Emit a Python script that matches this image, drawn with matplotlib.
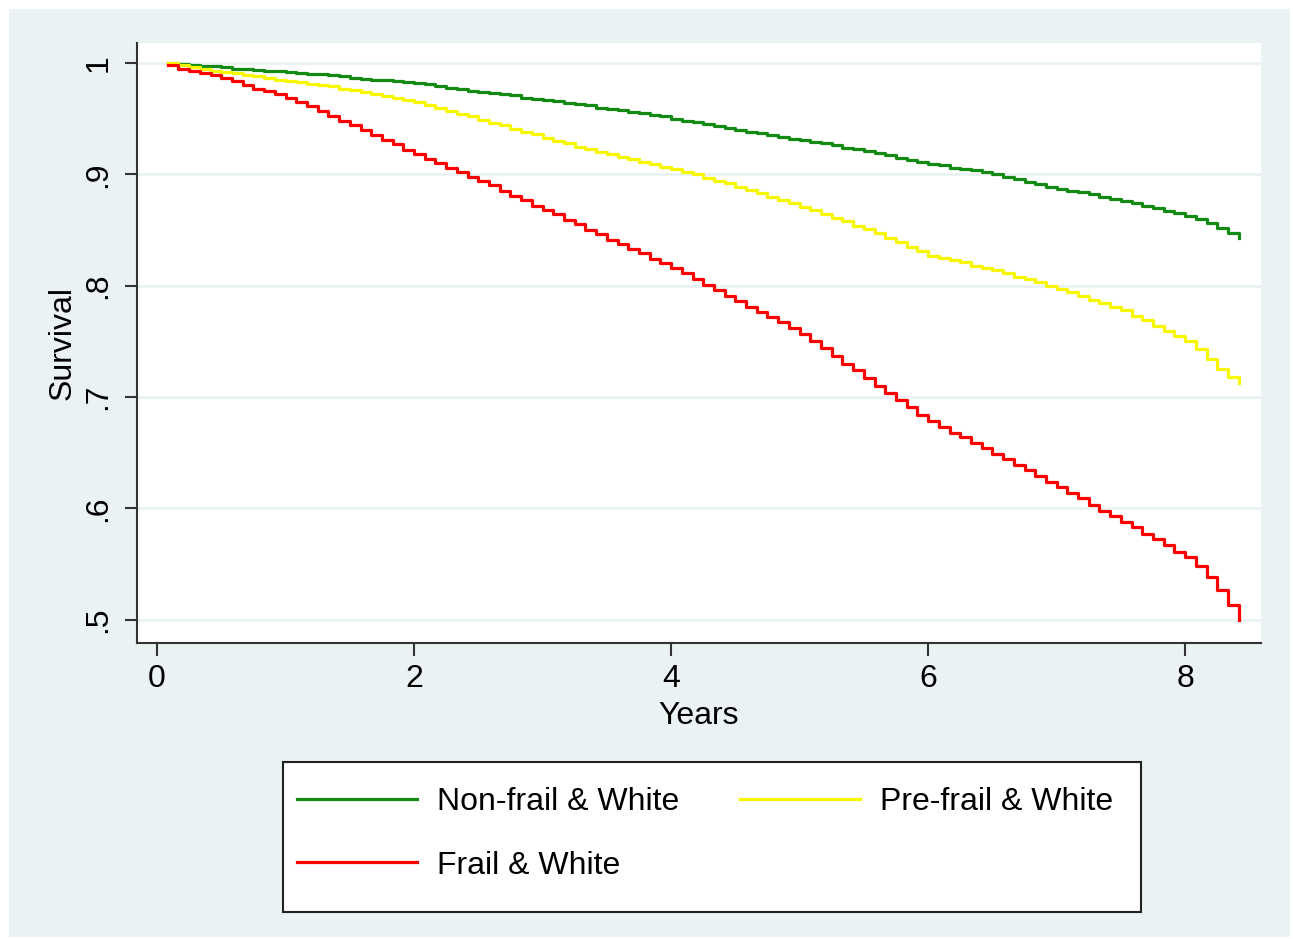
import numpy as np
import matplotlib
matplotlib.use("Agg")
import matplotlib.pyplot as plt
from matplotlib.patches import Rectangle

plt.rcParams["font.family"] = ["Liberation Sans", "DejaVu Sans"]

# step times: one step per month of follow-up
months = np.arange(1, 102)
years = months / 12

# survival, one value per month
non_frail = [
    1.000, 0.999, 0.998, 0.997, 0.997, 0.996, 0.995, 0.995, 0.994, 0.993,
    0.993, 0.992, 0.991, 0.990, 0.990, 0.989, 0.988, 0.987, 0.986, 0.985,
    0.985, 0.984, 0.983, 0.982, 0.981, 0.979, 0.978, 0.977, 0.975, 0.974,
    0.973, 0.972, 0.971, 0.969, 0.968, 0.967, 0.966, 0.964, 0.963, 0.962,
    0.960, 0.959, 0.958, 0.956, 0.955, 0.953, 0.952, 0.950, 0.948, 0.947,
    0.945, 0.943, 0.942, 0.940, 0.938, 0.937, 0.935, 0.934, 0.932, 0.931,
    0.929, 0.928, 0.926, 0.924, 0.923, 0.921, 0.919, 0.917, 0.915, 0.913,
    0.911, 0.909, 0.908, 0.906, 0.905, 0.904, 0.902, 0.900, 0.898, 0.896,
    0.893, 0.891, 0.889, 0.887, 0.885, 0.884, 0.882, 0.880, 0.878, 0.876,
    0.874, 0.872, 0.870, 0.867, 0.865, 0.863, 0.860, 0.856, 0.852, 0.847,
    0.843,
]
pre_frail = [
    1.000, 0.998, 0.996, 0.995, 0.993, 0.992, 0.991, 0.989, 0.988, 0.987,
    0.985, 0.984, 0.983, 0.981, 0.980, 0.979, 0.977, 0.976, 0.974, 0.972,
    0.970, 0.969, 0.967, 0.965, 0.962, 0.960, 0.957, 0.954, 0.952, 0.949,
    0.946, 0.944, 0.941, 0.938, 0.936, 0.933, 0.930, 0.928, 0.925, 0.923,
    0.920, 0.918, 0.916, 0.914, 0.911, 0.909, 0.907, 0.905, 0.902, 0.900,
    0.897, 0.894, 0.892, 0.889, 0.886, 0.883, 0.880, 0.877, 0.874, 0.871,
    0.868, 0.864, 0.861, 0.858, 0.854, 0.851, 0.847, 0.843, 0.839, 0.835,
    0.831, 0.827, 0.825, 0.823, 0.821, 0.818, 0.816, 0.814, 0.811, 0.808,
    0.806, 0.803, 0.800, 0.797, 0.794, 0.791, 0.787, 0.784, 0.781, 0.778,
    0.773, 0.769, 0.764, 0.759, 0.755, 0.750, 0.743, 0.734, 0.725, 0.718,
    0.713,
]
frail = [
    0.998, 0.995, 0.993, 0.991, 0.989, 0.987, 0.984, 0.980, 0.977, 0.975,
    0.972, 0.969, 0.965, 0.961, 0.957, 0.952, 0.948, 0.944, 0.940, 0.935,
    0.931, 0.927, 0.922, 0.918, 0.914, 0.910, 0.906, 0.902, 0.898, 0.894,
    0.890, 0.885, 0.881, 0.877, 0.872, 0.868, 0.864, 0.859, 0.855, 0.850,
    0.846, 0.841, 0.837, 0.833, 0.829, 0.824, 0.820, 0.816, 0.811, 0.806,
    0.801, 0.796, 0.791, 0.786, 0.781, 0.776, 0.772, 0.767, 0.762, 0.757,
    0.750, 0.744, 0.737, 0.730, 0.724, 0.717, 0.710, 0.704, 0.697, 0.691,
    0.684, 0.678, 0.673, 0.668, 0.664, 0.659, 0.654, 0.649, 0.644, 0.639,
    0.634, 0.629, 0.624, 0.619, 0.614, 0.609, 0.603, 0.598, 0.593, 0.588,
    0.583, 0.577, 0.572, 0.567, 0.561, 0.556, 0.548, 0.538, 0.527, 0.513,
    0.500,
]

labels = ["Non-frail & White", "Pre-frail & White", "Frail & White"]
colors = ["#138a13", "#f7f700", "#ff0000"]

x_ticks = [0, 2, 4, 6, 8]
y_ticks = [0.5, 0.6, 0.7, 0.8, 0.9, 1.0]
y_tick_labels = [".5", ".6", ".7", ".8", ".9", "1"]

W, H = 1293, 939
fig = plt.figure(figsize=(W / 100, H / 100), dpi=100, facecolor="white")

# light grey-blue Stata background
bg = "#eaf2f3"
fig.patches.append(Rectangle((9 / W, 2 / H), 1281 / W, 928 / H,
                             transform=fig.transFigure, facecolor=bg,
                             edgecolor="none", zorder=-10))

ax = fig.add_axes([137 / W, (H - 643) / H, 1124 / W, 600 / H])
ax.set_facecolor("white")

for s, lab, col in zip([non_frail, pre_frail, frail], labels, colors):
    ax.step(years, s, where="post", color=col, lw=2.3, label=lab)

ax.set_xlim(-0.156, 8.59)
ax.set_ylim(0.479, 1.018)
ax.set_xticks(x_ticks)
ax.set_yticks(y_ticks)
ax.set_yticklabels(y_tick_labels, rotation=90, va="center")
ax.grid(axis="y", color=bg, lw=2)
ax.set_axisbelow(True)

for side in ["top", "right"]:
    ax.spines[side].set_visible(False)
for side in ["left", "bottom"]:
    ax.spines[side].set_color("#333333")
    ax.spines[side].set_linewidth(1.5)

ax.tick_params(axis="both", labelsize=23, length=9, width=1.5,
               color="#333333", pad=6)
ax.tick_params(axis="y", pad=8)
ax.set_xlabel("Years", fontsize=23, labelpad=5)
ax.set_ylabel("Survival", fontsize=23, labelpad=4)

# legend box
fig.patches.append(Rectangle((283 / W, (H - 912) / H), 858 / W, 150 / H,
                             transform=fig.transFigure, facecolor="white",
                             edgecolor="#222222", lw=1.5, zorder=1))
handles, _ = ax.get_legend_handles_labels()
order = [0, 2, 1]
leg = fig.legend([handles[i] for i in order], [labels[i] for i in order],
                 ncol=2, loc="upper left",
                 bbox_to_anchor=(297 / W, (H - 787) / H),
                 frameon=False, fontsize=23, handlelength=3.76,
                 handletextpad=0.63, columnspacing=1.9, labelspacing=1.05,
                 borderpad=0, borderaxespad=0)
leg.set_zorder(2)

fig.savefig("out.png", dpi=100, facecolor="white")
